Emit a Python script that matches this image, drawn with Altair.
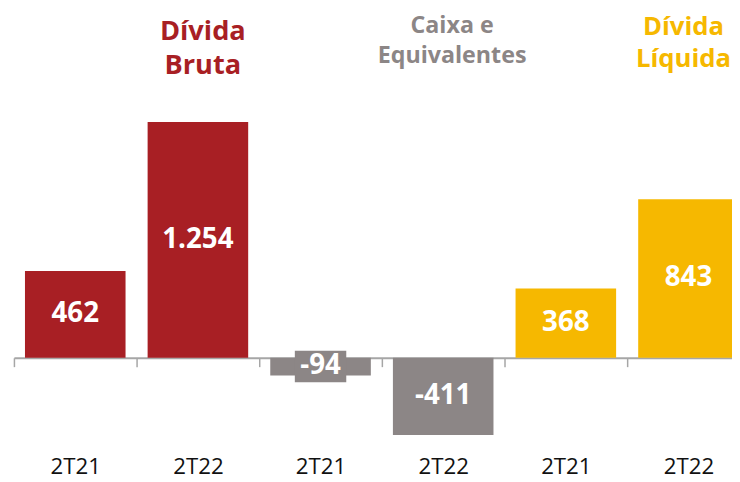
import altair as alt
import pandas as pd

# ---- data ----
groups = ["Dívida Bruta", "Dívida Bruta", "Caixa e Equivalentes", "Caixa e Equivalentes",
          "Dívida Líquida", "Dívida Líquida"]
periods = ["2T21", "2T22", "2T21", "2T22", "2T21", "2T22"]
values = [462, 1254, -94, -411, 368, 843]
value_labels = ["462", "1.254", "-94", "-411", "368", "843"]

group_names = ["Dívida Bruta", "Caixa e Equivalentes", "Dívida Líquida"]
group_title_lines = [["Dívida", "Bruta"], ["Caixa e", "Equivalentes"], ["Dívida", "Líquida"]]

# ---- style ----
group_colors = ["#A81F24", "#8C8686", "#F6B800"]
title_sizes = [27.5, 23.5, 26]
title_dx = [5, 9, -5]
title_baselines = [[1689, 1511], [1726, 1566], [1716, 1547]]  # data units above zero

keys = [g + "|" + p for g, p in zip(groups, periods)]
df = pd.DataFrame({"key": keys, "group": groups, "period": periods,
                   "value": values, "label": value_labels})

color = alt.Color("group:N", scale=alt.Scale(domain=group_names, range=group_colors), legend=None)

x = alt.X("key:N", sort=keys,
          scale=alt.Scale(range=[0, 744], paddingInner=0, paddingOuter=0),
          axis=alt.Axis(title=None, offset=-114, grid=False,
                        domainColor="#A6A6A6", domainWidth=2,
                        tickColor="#A6A6A6", tickWidth=1.5, tickSize=9, tickBand="extent",
                        labelPadding=108, labelBaseline="alphabetic",
                        labelExpr="split(datum.label, '|')[1]",
                        labelFont="Open Sans", labelFontSize=22.5,
                        labelColor="#111111", labelAngle=0))
yscale = alt.Scale(domain=[-600, 1800], nice=False, zero=False)

base = alt.Chart(df)

bars = base.mark_bar(width=alt.RelativeBandSize(0.82)).encode(
    x=x, y=alt.Y("value:Q", scale=yscale, axis=None), y2=alt.datum(0), color=color)

boxes = base.transform_filter("abs(datum.value) < 170").transform_calculate(
    top="datum.value/2 + 84", bot="datum.value/2 - 84"
).mark_bar(width=52).encode(
    x=x, y=alt.Y("top:Q", scale=yscale, axis=None), y2="bot:Q", color=color)

texts = base.transform_calculate(mid="datum.value/2").mark_text(
    font="Open Sans", fontWeight="bold", fontSize=28, color="white", baseline="middle"
).encode(x=x, y=alt.Y("mid:Q", scale=yscale, axis=None), text="label:N")

title_layers = []
for g, lines, sz, dx, ys in zip(group_names, group_title_lines, title_sizes, title_dx, title_baselines):
    tdf = pd.DataFrame({"key": [g + "|2T22"] * len(lines), "group": [g] * len(lines),
                        "text": lines, "y": ys})
    title_layers.append(
        alt.Chart(tdf).mark_text(font="Open Sans", fontWeight="bold", baseline="alphabetic",
                                 fontSize=sz, dx=dx)
        .encode(x=x, y=alt.Y("y:Q", scale=yscale, axis=None), text="text:N", color=color)
    )

chart = alt.layer(bars, boxes, texts, *title_layers).properties(
    width=726, height=456,
    autosize=alt.AutoSizeParams(type="none"),
    padding={"left": 6, "top": 9, "right": 0, "bottom": 9},
).configure_view(stroke=None)

chart.save("out.html", embed_options={"renderer": "svg", "actions": False})
